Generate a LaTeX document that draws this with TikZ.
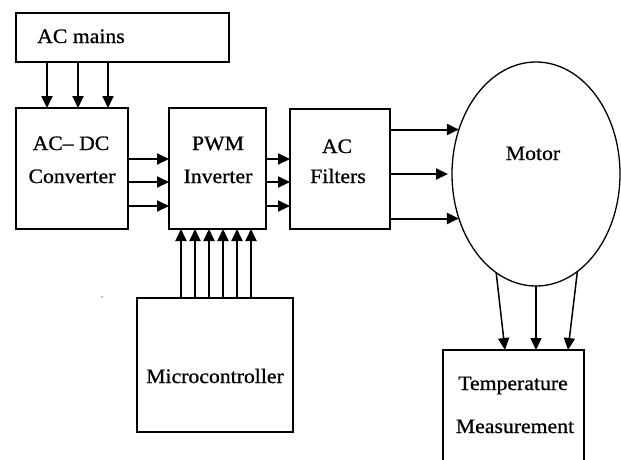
\documentclass[tikz,border=0pt]{standalone}
\usepackage{fontspec}
\setmainfont{Liberation Serif}[FakeStretch=1.06,FakeBold=0.8]
\usetikzlibrary{arrows.meta,shapes.geometric}
\begin{document}
\begin{tikzpicture}[x=1pt,y=-1pt,
  box/.style={draw,line width=2pt,inner sep=0pt,outer sep=0pt},
  oval/.style={draw,ellipse,line width=1.3pt,inner sep=0pt,outer sep=0pt,minimum width=168pt,minimum height=224pt},
  arr/.style={line width=2pt,-{Triangle[length=12pt,width=11pt]}},
  txt/.style={inner sep=0pt,anchor=base,font=\fontsize{20.5}{24}\selectfont}]
\useasboundingbox (0,0) rectangle (621,459);
% boxes
\node[box,minimum width=213pt,minimum height=49pt] (acm) at (122.5,37.5) {};
\node[box,minimum width=112pt,minimum height=121pt] (acdc) at (72,168.5) {};
\node[box,minimum width=97pt,minimum height=121pt] (pwm) at (217.5,168.5) {};
\node[box,minimum width=100pt,minimum height=120pt] (filt) at (340,169) {};
\node[box,minimum width=156pt,minimum height=134pt] (micro) at (215,365) {};
\node[box,minimum width=141pt,minimum height=130pt] (temp) at (513.5,415) {};
\node[oval] (motor) at (536,174) {};
% texts
\node[txt,anchor=base west] (t1) at (37,43) {AC mains};
\node[txt] (t2) at (71,150) {AC– DC};
\node[txt] (t3) at (72,183) {Converter};
\node[txt] (t4) at (218,150) {PWM};
\node[txt] (t5) at (218,183) {Inverter};
\node[txt] (t6) at (337,153) {AC};
\node[txt] (t7) at (338,183) {Filters};
\node[txt] (t8) at (533,160) {Motor};
\node[txt] (t9) at (215,383) {Microcontroller};
\node[txt] (t10) at (513,390) {Temperature};
\node[txt] (t11) at (515,433) {Measurement};
% AC mains -> AC-DC
\foreach \x in {47,78,108}
  \draw[arr] (acm.south -| \x,0) -- (acdc.north -| \x,0);
% AC-DC -> PWM, PWM -> filters
\foreach \y in {159,182,206}{
  \draw[arr] (acdc.east |- 0,\y) -- (pwm.west |- 0,\y);
  \draw[arr] (pwm.east |- 0,\y) -- (filt.west |- 0,\y);
}
% microcontroller -> PWM
\foreach \x in {181,195,209,223,237,251}
  \draw[arr] (micro.north -| \x,0) -- (pwm.south -| \x,0);
% filters -> motor
\draw[arr] (filt.east |- motor.150) -- (motor.150);
\coordinate (mmid) at ([xshift=-4pt]motor.west);
\draw[arr] (filt.east |- mmid) -- (mmid);
\draw[arr] (filt.east |- motor.210) -- (motor.210);
% motor -> temperature
\draw[arr,line width=1.5pt] (motor.248) -- (temp.north -| 505,0);
\draw[arr,line width=1.5pt] (motor.south) -- (temp.north -| motor.south);
\draw[arr,line width=1.5pt] (motor.293) -- (temp.north -| 568,0);
% stray dot
\fill (102,297) circle (0.7pt);
\end{tikzpicture}
\end{document}
